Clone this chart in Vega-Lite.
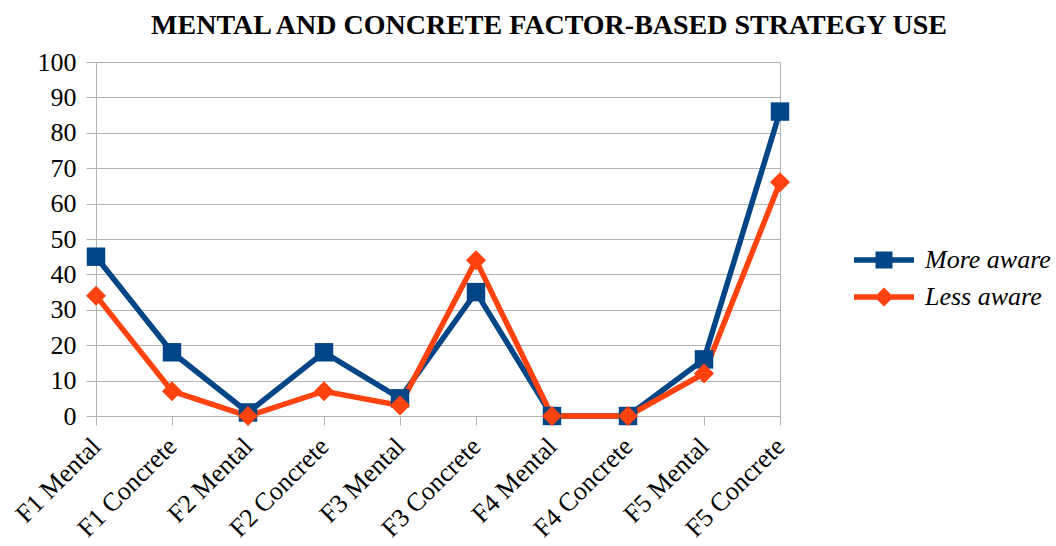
{
  "$schema": "https://vega.github.io/schema/vega-lite/v6.json",
  "width": 684,
  "height": 354,
  "autosize": {"type": "none"},
  "padding": {"left": 96, "top": 62, "right": 276, "bottom": 130},
  "background": "white",
  "config": {
    "font": "Liberation Serif",
    "view": {"stroke": "#b3b3b3", "strokeWidth": 1}
  },
  "title": {
    "text": "MENTAL AND CONCRETE FACTOR-BASED STRATEGY USE",
    "font": "Liberation Serif",
    "fontSize": 28,
    "fontWeight": "bold",
    "color": "black",
    "anchor": "middle",
    "frame": "group",
    "dx": 111,
    "offset": 9
  },
  "data": {
    "values": [
      {"category": "F1 Mental", "series": "More aware", "value": 45},
      {"category": "F1 Concrete", "series": "More aware", "value": 18},
      {"category": "F2 Mental", "series": "More aware", "value": 1},
      {"category": "F2 Concrete", "series": "More aware", "value": 18},
      {"category": "F3 Mental", "series": "More aware", "value": 5},
      {"category": "F3 Concrete", "series": "More aware", "value": 35},
      {"category": "F4 Mental", "series": "More aware", "value": 0},
      {"category": "F4 Concrete", "series": "More aware", "value": 0},
      {"category": "F5 Mental", "series": "More aware", "value": 16},
      {"category": "F5 Concrete", "series": "More aware", "value": 86},
      {"category": "F1 Mental", "series": "Less aware", "value": 34},
      {"category": "F1 Concrete", "series": "Less aware", "value": 7},
      {"category": "F2 Mental", "series": "Less aware", "value": 0},
      {"category": "F2 Concrete", "series": "Less aware", "value": 7},
      {"category": "F3 Mental", "series": "Less aware", "value": 3},
      {"category": "F3 Concrete", "series": "Less aware", "value": 44},
      {"category": "F4 Mental", "series": "Less aware", "value": 0},
      {"category": "F4 Concrete", "series": "Less aware", "value": 0},
      {"category": "F5 Mental", "series": "Less aware", "value": 12},
      {"category": "F5 Concrete", "series": "Less aware", "value": 66}
    ]
  },
  "encoding": {
    "x": {
      "field": "category",
      "type": "nominal",
      "sort": null,
      "scale": {"type": "point", "padding": 0},
      "axis": {
        "title": null,
        "labelAngle": -45,
        "labelAlign": "right",
        "labelBaseline": "middle",
        "labelFont": "Liberation Serif",
        "labelFontSize": 26,
        "labelColor": "black",
        "labelPadding": 17,
        "tickColor": "#b3b3b3",
        "tickSize": 9,
        "domainColor": "#b3b3b3",
        "grid": false
      }
    },
    "y": {
      "field": "value",
      "type": "quantitative",
      "scale": {"domain": [0, 100], "nice": false},
      "axis": {
        "title": null,
        "values": [0, 10, 20, 30, 40, 50, 60, 70, 80, 90, 100],
        "labelFont": "Liberation Serif",
        "labelFontSize": 26,
        "labelColor": "black",
        "labelPadding": 10,
        "tickColor": "#b3b3b3",
        "tickSize": 10,
        "domainColor": "#b3b3b3",
        "gridColor": "#b3b3b3",
        "gridWidth": 1
      }
    },
    "color": {
      "field": "series",
      "type": "nominal",
      "sort": ["More aware", "Less aware"],
      "scale": {"domain": ["More aware", "Less aware"], "range": ["#004586", "#ff420e"]},
      "legend": {
        "title": null,
        "orient": "none",
        "legendX": 758,
        "legendY": 185,
        "padding": 0,
        "symbolSize": 400,
        "symbolType": "square",
        "symbolStrokeWidth": 0,
        "labelFont": "Liberation Serif",
        "labelFontSize": 26,
        "labelFontStyle": "italic",
        "labelColor": "black",
        "labelOffset": 45,
        "rowPadding": 11,
        "encode": {
          "symbols": {
            "update": {
              "shape": {"signal": "datum.value === 'More aware' ? 'M-3,-0.27H3V0.27H-3Z M-0.85,-0.85H0.85V0.85H-0.85Z' : 'M-3,-0.27H3V0.27H-3Z M0,-0.95L0.95,0L0,0.95L-0.95,0Z'"},
              "fill": {"signal": "datum.value === 'More aware' ? '#004586' : '#ff420e'"},
              "stroke": {"value": "transparent"},
              "opacity": {"value": 1},
              "x": {"value": 30}
            }
          }
        }
      }
    }
  },
  "layer": [
    {
      "mark": {"type": "line", "strokeWidth": 5.5, "strokeJoin": "miter"}
    },
    {
      "transform": [{"filter": "datum.series === 'More aware'"}],
      "mark": {"type": "point", "shape": "square", "filled": true, "opacity": 1, "size": 340}
    },
    {
      "transform": [{"filter": "datum.series === 'Less aware'"}],
      "mark": {"type": "point", "shape": "diamond", "filled": true, "opacity": 1, "size": 400}
    }
  ]
}
